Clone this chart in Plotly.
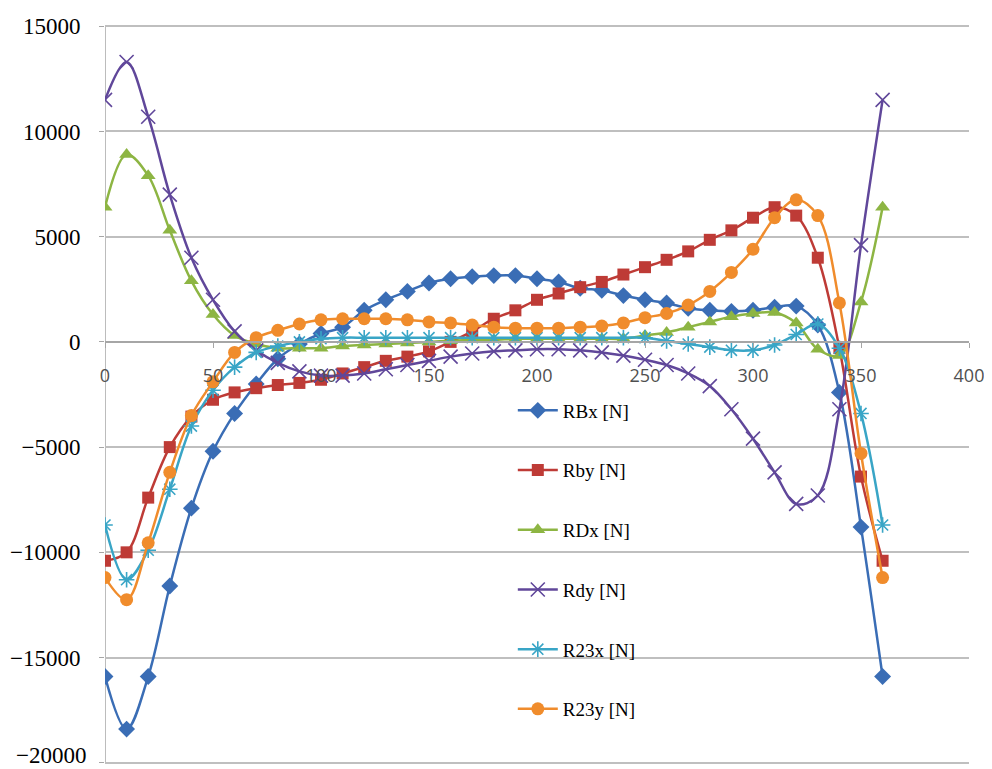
import plotly.graph_objects as go

angle = list(range(0, 361, 10))

RBx = [-15900, -18400, -15900, -11600, -7900, -5200, -3400, -2000, -800, -100,
       400, 700, 1500, 2000, 2400, 2800, 3000, 3100, 3150, 3150,
       3000, 2850, 2550, 2450, 2200, 2000, 1850, 1600, 1500, 1450,
       1500, 1650, 1700, 800, -2400, -8800, -15900]
Rby = [-10400, -10000, -7400, -5000, -3550, -2750, -2400, -2200, -2050, -1950,
       -1800, -1500, -1200, -900, -700, -450, 0, 500, 1100, 1500,
       2000, 2300, 2600, 2850, 3200, 3550, 3900, 4300, 4850, 5300,
       5900, 6400, 6000, 4000, -300, -6400, -10400]
RDx = [6400, 8900, 7900, 5300, 2900, 1300, 300, -100, -300, -300,
       -300, -200, -150, -100, -50, 0, 50, 100, 100, 150,
       150, 150, 150, 150, 150, 300, 450, 700, 950, 1200,
       1350, 1400, 900, -350, -650, 1900, 6400]
Rdy = [11500, 13300, 10700, 7000, 4000, 2000, 500, -400, -1000, -1400,
       -1600, -1600, -1500, -1300, -1100, -900, -700, -550, -450, -400,
       -350, -350, -400, -500, -650, -850, -1100, -1500, -2100, -3200,
       -4600, -6200, -7700, -7300, -3200, 4600, 11500]
R23x = [-8700, -11300, -9900, -7000, -4000, -2300, -1200, -500, -200, 0,
        150, 200, 200, 200, 200, 200, 200, 200, 200, 200,
        200, 200, 200, 200, 200, 200, 50, -100, -250, -400,
        -400, -150, 350, 850, -300, -3400, -8700]
R23y = [-11200, -12250, -9550, -6200, -3500, -1900, -500, 200, 550, 850,
        1050, 1100, 1100, 1100, 1050, 950, 900, 800, 700, 650,
        650, 650, 700, 750, 900, 1150, 1350, 1750, 2400, 3300,
        4400, 5900, 6750, 6000, 1850, -5300, -11200]

y_ticks = [-20000, -15000, -10000, -5000, 0, 5000, 10000, 15000]
y_tick_text = ["", "\u221215000", "\u221210000", "\u22125000", "0", "5000", "10000", "15000"]
y_bottom_label = "\u221220000"

series_names = ["RBx [N]", "Rby [N]", "RDx [N]", "Rdy [N]", "R23x [N]", "R23y [N]"]
series_vals = [RBx, Rby, RDx, Rdy, R23x, R23y]
colors = ["#3a6db5", "#be3b36", "#8db543", "#60479a", "#39a5c6", "#f08c2c"]
symbols = ["diamond", "square", "triangle-up", "x-thin-open", "asterisk-open", "circle"]
sizes = [13, 12, 13, 14, 13, 13]

y_lo, y_hi = -20200, 15200
label_font = dict(family="Liberation Serif", size=23, color="black")

fig = go.Figure()
for i, (name, vals) in enumerate(zip(series_names, series_vals)):
    open_sym = symbols[i].endswith("open")
    fig.add_trace(go.Scatter(
        x=angle, y=vals, name=name, mode="lines+markers",
        line=dict(color=colors[i], width=2.5, shape="spline", smoothing=1.0),
        marker=dict(symbol=symbols[i], size=sizes[i], color=colors[i],
                    line=dict(color=colors[i], width=1.6 if open_sym else 0)),
        legendgroup=f"g{i}",
    ))

fig.update_layout(
    width=992, height=769,
    paper_bgcolor="white", plot_bgcolor="white",
    margin=dict(l=97, r=31, t=14, b=10, autoexpand=False),
    showlegend=True,
    legend=dict(
        x=0.472, y=0.504, xanchor="left", yanchor="top",
        bgcolor="rgba(0,0,0,0)",
        font=dict(family="Liberation Serif", size=19, color="black"),
        tracegroupgap=32, itemwidth=40,
    ),
    xaxis=dict(
        range=[0, 400], dtick=50, tick0=0, automargin=False,
        anchor="free", position=(0 - y_lo) / (y_hi - y_lo),
        showline=True, linecolor="#a6a6a6", linewidth=1.5,
        ticks="outside", ticklen=5, tickcolor="#a6a6a6",
        showgrid=False, zeroline=False,
        tickfont=dict(family="Open Sans", size=18, color="#505050"),
        ticklabelstandoff=13,
    ),
    yaxis=dict(
        range=[y_lo, y_hi], tickmode="array", tickvals=y_ticks, ticktext=y_tick_text,
        automargin=False, showline=False,
        ticks="outside", ticklen=5, tickcolor="#a6a6a6",
        showgrid=True, gridcolor="#bfbfbf", gridwidth=2,
        zeroline=False,
        tickfont=label_font,
        ticklabelstandoff=14,
    ),
    shapes=[dict(type="line", xref="x", yref="y", x0=0, x1=0, y0=-20000, y1=15000,
                 line=dict(color="#a6a6a6", width=1.5), layer="below")],
    annotations=[dict(text=y_bottom_label, xref="paper", yref="y", x=0, y=-20000,
                      xanchor="right", yanchor="middle", xshift=-18, yshift=7,
                      showarrow=False, font=label_font, borderpad=0)],
)

fig.write_html("out.html")
